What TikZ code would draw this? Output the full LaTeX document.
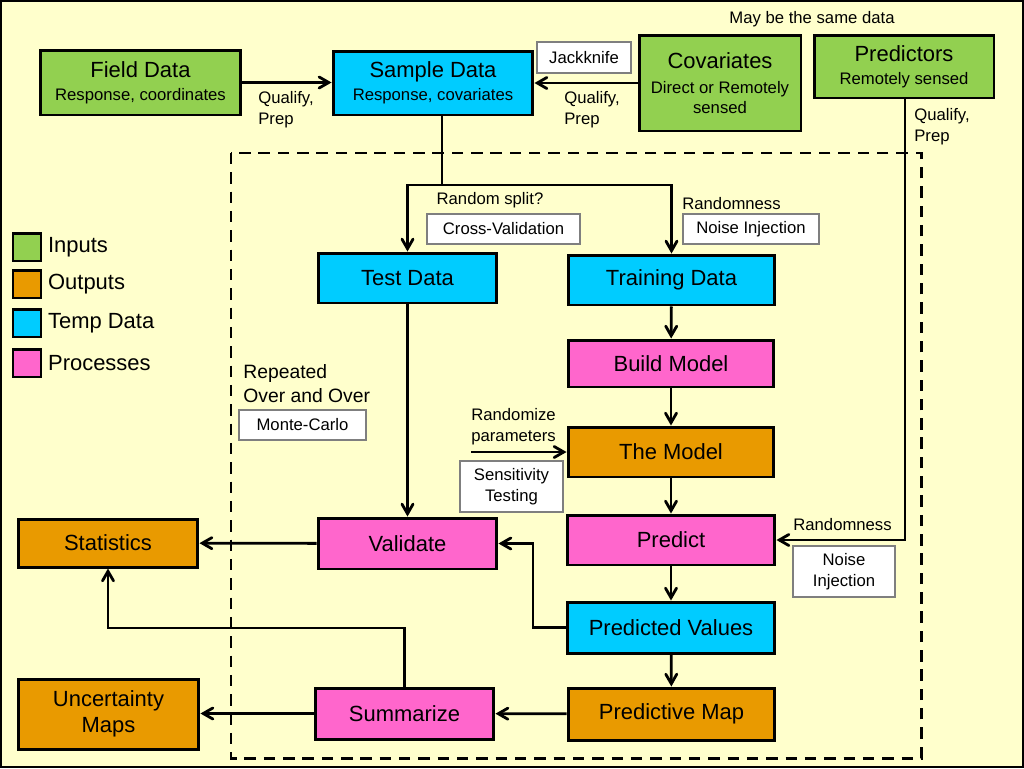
\documentclass[tikz,border=0pt]{standalone}
\usepackage{fontspec}
\setmainfont{Liberation Sans}
\usetikzlibrary{arrows,positioning}

\definecolor{bgyellow}{HTML}{FFFFCC}
\definecolor{ingreen}{HTML}{92D050}
\definecolor{outorange}{HTML}{E99A00}
\definecolor{tempcyan}{HTML}{00CCFF}
\definecolor{procpink}{HTML}{FF66CC}
\definecolor{tagedge}{HTML}{7F7F7F}

\newcommand{\boxtitle}{\fontsize{12.5}{15}\selectfont}
\newcommand{\boxsub}{\fontsize{9.5}{12}\selectfont}
\newcommand{\midtxt}{\fontsize{11}{13.6}\selectfont}

\begin{document}
\begin{tikzpicture}[x=0.02cm,y=-0.02cm,>=angle 60,
    box/.style={draw,line width=1.7pt,align=center,inner sep=0pt,font=\boxtitle},
    inbox/.style={box,fill=ingreen},
    outbox/.style={box,fill=outorange},
    tempbox/.style={box,fill=tempcyan},
    procbox/.style={box,fill=procpink},
    tag/.style={draw=tagedge,fill=white,line width=0.6pt,align=center,inner sep=0pt,font=\boxsub},
    note/.style={align=left,inner sep=0pt,font=\boxsub},
    flow/.style={->,line width=1.6pt},
    link/.style={line width=1.6pt},
    legendsq/.style={draw,line width=1.7pt,minimum size=0.56cm,inner sep=0pt}]

  % background and frame
  \fill[bgyellow] (0,0) rectangle (1024,768);
  \draw[line width=0.8pt] (1,1) rectangle (1023,767);

  % the repeated part
  \draw[line width=1.7pt,dash pattern=on 6.5pt off 4.5pt] (231,153) rectangle (921,758);

  % inputs
  \node[inbox,minimum width=4.02cm,minimum height=1.3cm] (field) at (140.5,82.5)
    {Field Data\\[-2pt]\boxsub Response, coordinates};
  \node[tempbox,minimum width=4cm,minimum height=1.28cm] (sample) at (433,83)
    {Sample Data\\[-2pt]\boxsub Response, covariates};
  \node[tag,minimum width=1.88cm,minimum height=0.62cm] (jack) at (584,57.5) {Jackknife};
  \node[inbox,minimum width=3.24cm,minimum height=1.92cm] (cov) at (720,83)
    {Covariates\\[-1pt]\boxsub Direct or Remotely\\[-3.5pt]\boxsub sensed};
  \node[inbox,minimum width=3.6cm,minimum height=1.26cm] (pred) at (904,66.5)
    {Predictors\\[-2pt]\boxsub Remotely sensed};
  \node[font=\boxsub,inner sep=0pt] (same) at (812,19) {May be the same data};

  \node[note,anchor=west] (qp1) at (258,110) {Qualify,\\Prep};
  \node[note,anchor=west] (qp2) at (564,110) {Qualify,\\Prep};
  \node[note,anchor=west] (qp3) at (914,127) {Qualify,\\Prep};

  % legend
  \node[legendsq,fill=ingreen] (lin) at (27,247) {};
  \node[legendsq,fill=outorange] (lout) at (27,284) {};
  \node[legendsq,fill=tempcyan] (ltemp) at (27,323) {};
  \node[legendsq,fill=procpink] (lproc) at (27,363) {};
  \node[right=3pt of lin,font=\boxtitle,inner sep=0pt] (linl) {Inputs};
  \node[right=3pt of lout,font=\boxtitle,inner sep=0pt] (loutl) {Outputs};
  \node[right=3pt of ltemp,font=\boxtitle,inner sep=0pt] (ltempl) {Temp Data};
  \node[right=3pt of lproc,font=\boxtitle,inner sep=0pt] (lprocl) {Processes};

  % split into test and training
  \node[tempbox,minimum width=3.58cm,minimum height=1cm] (test) at (407.5,278) {Test Data};
  \node[tempbox,minimum width=4.14cm,minimum height=1cm] (train) at (671.5,280) {Training Data};
  \node[font=\boxsub,inner sep=0pt] (splitl) at (490,200) {Random split?};
  \node[tag,minimum width=3.06cm,minimum height=0.6cm] (cv) at (503.5,229) {Cross-Validation};
  \node[note,anchor=west] (rand1) at (682,204) {Randomness};
  \node[tag,minimum width=2.72cm,minimum height=0.6cm] (noise1) at (751,229) {Noise Injection};

  % model chain
  \node[procbox,minimum width=4.12cm,minimum height=0.94cm] (build) at (671,363.5) {Build Model};
  \node[outbox,minimum width=4.12cm,minimum height=1cm] (model) at (671,452) {The Model};
  \node[procbox,minimum width=4.16cm,minimum height=1cm] (predict) at (671,540) {Predict};
  \node[tempbox,minimum width=4.16cm,minimum height=1.02cm] (pvals) at (671,627.5) {Predicted Values};
  \node[outbox,minimum width=4.14cm,minimum height=1.04cm] (pmap) at (671.5,714) {Predictive Map};

  \node[note,anchor=west] (randp) at (471,427) {Randomize\\parameters};
  \node[tag,minimum width=2.06cm,minimum height=1.02cm] (sens) at (511.5,486.5) {Sensitivity\\Testing};
  \node[note,anchor=west] (rand2) at (793,525) {Randomness};
  \node[tag,minimum width=2.04cm,minimum height=1.02cm] (noise2) at (844,571.5) {Noise\\Injection};

  % validation side
  \node[procbox,minimum width=3.58cm,minimum height=1.02cm] (validate) at (407.5,543.5) {Validate};
  \node[procbox,minimum width=3.58cm,minimum height=1.02cm] (summ) at (404.5,713.5) {Summarize};
  \node[outbox,minimum width=3.6cm,minimum height=0.96cm] (stats) at (108,543) {Statistics};
  \node[outbox,minimum width=3.62cm,minimum height=1.4cm] (unc) at (108.5,714) {Uncertainty\\Maps};

  \node[align=left,inner sep=0pt,font=\midtxt,anchor=west] (rep) at (243,384) {Repeated\\Over and Over};
  \node[tag,minimum width=2.54cm,minimum height=0.6cm] (monte) at (302.5,425) {Monte-Carlo};

  % helper points
  \coordinate (split) at (442,185);
  \coordinate (pturn) at (905,540);
  \coordinate (vbend) at (533,627.5);
  \coordinate (sbend) at (405,628);
  \coordinate (rpin) at (471,452);

  % connectors
  \draw[flow] (field) -- (field.east -| sample.west);
  \draw[flow] (cov.west) -- (cov.west -| sample.east);
  \draw[link] (sample.south -| split) -- (split);
  \draw[flow] (split) -| (test.north);
  \draw[flow] (split) -| (train.north);
  \draw[flow] (pred.south -| pturn) |- (predict.east);

  \draw[flow] (train) -- (build);
  \draw[flow] (build) -- (model);
  \draw[flow] (model) -- (predict);
  \draw[flow] (predict) -- (pvals);
  \draw[flow] (pvals) -- (pmap);
  \draw[flow] (rpin) -- (model.west);

  \draw[flow] (test) -- (validate);
  \draw[flow] (pvals.west) -- (vbend) |- (validate.east);
  \draw[flow] (validate) -- (stats);
  \draw[flow] (summ.north) -- (summ.north |- sbend) -| (stats.south);
  \draw[flow] (pmap) -- (summ);
  \draw[flow] (summ) -- (summ.west -| unc.east);
\end{tikzpicture}
\end{document}
